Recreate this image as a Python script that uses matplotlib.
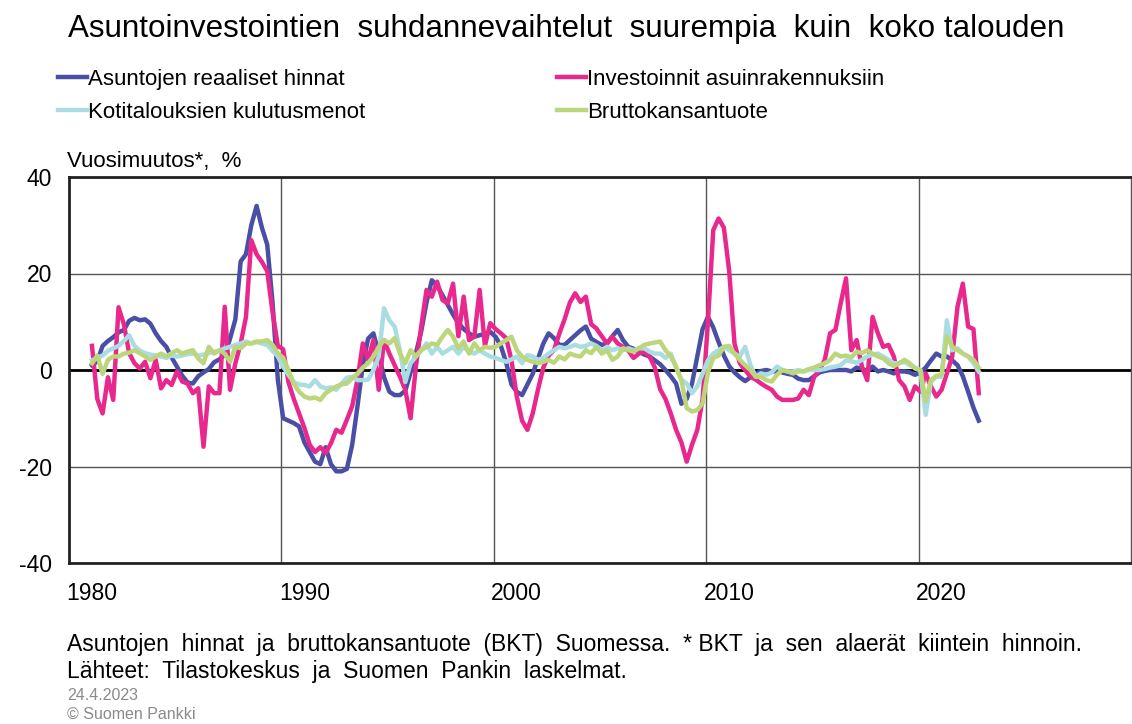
import numpy as np
import matplotlib
matplotlib.use("Agg")
import matplotlib.pyplot as plt

plt.rcParams['font.family'] = ['Liberation Sans', 'DejaVu Sans']
plt.rcParams['axes.unicode_minus'] = False

# quarterly data, 1980Q1 - 2021Q4 (year-on-year change, %)
start_year = 1980
house_prices = [
    1.0, 1.8, 5.0, 6.0,   6.8, 7.8, 8.3, 10.2,   10.8, 10.3, 10.5, 9.6,
    7.6, 6.0, 4.8, 2.6,   0.7, -1.2, -2.6, -2.8,   -1.3, -0.5, 0.2, 1.6,
    2.2, 3.2, 6.5, 10.5,   22.5, 24.0, 30.0, 34.0,   29.5, 26.0, 14.0, -2.0,
    -10.0, -10.5, -11.0, -11.7,   -15.0, -17.0, -19.0, -19.5,   -16.0, -19.5, -21.0, -21.0,
    -20.5, -15.5, -7.5, 1.0,   6.5, 7.6, 3.4, -1.5,   -4.5, -5.2, -5.2, -4.3,
    -0.5, 3.5, 8.0, 14.0,   18.6, 17.5, 15.5, 13.5,   11.5, 9.7, 8.5, 7.6,
    6.9, 7.2, 7.5, 7.9,   6.9, 5.0, 1.5, -3.0,   -4.5, -5.2, -3.0, -0.8,
    2.4, 5.5, 7.6, 6.6,   5.2, 5.2, 6.2, 7.2,   8.2, 9.0, 6.5, 5.8,
    5.2, 5.5, 7.0, 8.3,   6.2, 4.8, 4.4, 3.8,   3.2, 2.8, 2.0, 1.2,
    0.0, -1.3, -2.8, -7.0,   -6.0, -2.8, 2.8, 8.5,   11.0, 8.8, 5.8, 3.0,
    0.8, -0.5, -1.5, -2.3,   -1.5, -0.8, -0.2, 0.0,   -0.3, -0.3, -0.5, -0.8,
    -1.0, -1.8, -2.1, -2.1,   -1.3, -0.5, -0.2, 0.0,   0.0, 0.0, 0.0, -0.3,
    0.5, 0.3, -0.3, 0.7,   -0.3, 0.0, -0.3, -0.7,   -0.3, -0.3, -0.5, -1.0,
    -0.5, 0.5, 2.0, 3.4,   2.8, 2.8, 2.0, 1.0,   -1.3, -4.5, -7.8, -10.5,
]
housing_investment = [
    5.0, -6.0, -9.0, -1.5,   -6.2, 13.0, 9.5, 3.5,   1.4, 0.3, 1.7, -1.7,
    2.1, -3.8, -2.1, -3.1,   -0.3, -2.4, -2.8, -4.8,   -3.8, -15.9, -3.4, -4.8,
    -4.8, 13.1, -4.1, 1.4,   5.5, 11.0, 26.9, 24.0,   22.4, 20.5, 12.0, 5.0,
    4.3, -2.5, -6.0, -9.0,   -12.0, -15.5, -17.0, -16.0,   -17.2, -15.2, -12.4, -13.0,
    -10.3, -7.5, -2.0, 5.5,   2.1, 6.2, -4.1, 6.2,   3.4, 1.0, -1.4, -4.1,
    -10.0, 0.7, 9.0, 16.6,   15.2, 18.3, 14.5, 13.8,   17.9, 7.0, 15.2, 6.2,
    6.9, 16.6, 5.0, 9.7,   8.5, 7.6, 6.6, 2.0,   -5.5, -10.5, -12.4, -9.0,
    -4.0, 0.5, 3.0, 4.1,   7.5, 10.5, 14.0, 15.9,   14.1, 15.2, 9.5, 8.6,
    7.0, 5.5, 6.9, 5.5,   4.8, 4.0, 2.5, 3.4,   3.8, 2.8, 0.5, -4.0,
    -6.0, -9.0, -12.4, -15.0,   -19.0, -15.5, -12.4, -6.0,   10.0, 29.0, 31.4, 29.5,
    20.5, 5.5, 1.4, 0.0,   -1.4, -2.0, -2.8, -3.5,   -4.1, -5.5, -6.2, -6.2,
    -6.2, -5.9, -4.1, -5.2,   -1.4, 0.0, 2.1, 7.6,   8.3, 13.8, 19.0, 4.1,
    6.2, 0.7, -2.1, 11.0,   7.6, 4.8, 5.2, 2.8,   -2.1, -3.4, -6.2, -3.4,
    -4.5, -0.7, -3.4, -5.5,   -4.1, -0.7, 2.8, 13.1,   17.9, 9.0, 8.5, -4.8,
]
consumption = [
    2.0, 2.5, 3.0, 4.0,   4.5, 5.0, 6.0, 7.2,   5.0, 4.0, 3.5, 3.2,
    3.0, 2.8, 2.5, 3.0,   2.8, 3.0, 3.3, 3.4,   3.0, 3.2, 3.5, 3.8,
    4.0, 4.5, 4.8, 5.2,   5.5, 5.9, 5.5, 5.8,   5.5, 5.2, 4.0, 2.8,
    0.7, -1.0, -2.5, -3.0,   -3.1, -3.4, -2.1, -3.4,   -3.8, -3.6, -4.1, -2.8,
    -1.6, -1.4, -2.1, -2.1,   -2.0, 0.0, 2.8, 12.8,   10.3, 9.0, 4.0, -2.5,
    1.4, 2.8, 4.1, 5.5,   3.4, 4.8, 3.4, 4.1,   4.8, 3.4, 4.8, 3.8,
    3.4, 4.1, 3.4, 2.8,   2.5, 2.1, 1.7, 2.2,   2.8, 1.4, 3.1, 2.8,
    2.1, 2.5, 3.4, 4.1,   4.8, 4.5, 4.8, 5.2,   4.8, 5.0, 5.5, 5.0,
    4.1, 4.8, 4.1, 4.5,   4.1, 4.5, 4.1, 4.5,   4.5, 3.8, 3.4, 3.4,
    2.5, 3.4, 0.5, -2.0,   -2.8, -4.8, -3.4, -0.7,   2.0, 3.4, 4.1, 4.8,
    4.1, 3.4, 2.8, 4.8,   1.0, -1.4, -0.7, -1.0,   -0.5, 0.7, 0.0, -0.3,
    -0.3, 0.0, -0.3, 0.0,   0.0, 0.0, 0.2, 0.5,   0.7, 1.0, 2.0, 1.8,
    1.5, 2.1, 2.8, 3.2,   3.4, 2.8, 2.1, 1.4,   1.4, 1.7, 1.0, 0.5,
    0.0, -9.3, -2.4, -1.4,   -1.4, 10.3, 4.1, 4.5,   3.4, 2.8, 1.4, -0.3,
]
gdp = [
    1.4, 3.0, -0.8, 2.1,   2.8, 2.8, 3.4, 3.6,   4.1, 3.5, 2.8, 2.1,
    2.8, 3.4, 2.8, 3.5,   4.1, 3.4, 3.8, 4.1,   2.4, 1.4, 4.8, 3.4,
    4.1, 3.4, 1.7, 4.8,   4.5, 5.5, 5.5, 5.9,   5.9, 6.2, 5.2, 3.5,
    2.5, 0.0, -2.8, -4.5,   -5.5, -5.9, -5.7, -6.2,   -4.8, -4.1, -3.4, -3.0,
    -2.8, -1.7, -0.8, 0.5,   1.4, 2.8, 4.8, 6.2,   5.5, 6.6, 3.4, 1.4,
    4.1, 2.8, 4.1, 4.8,   5.5, 5.2, 6.9, 8.3,   6.9, 4.5, 5.9, 3.4,
    5.5, 4.1, 4.8, 4.6,   4.8, 5.5, 6.2, 6.9,   4.1, 2.8, 2.1, 1.7,
    1.4, 1.7, 2.1, 1.5,   2.8, 2.2, 3.4, 3.0,   2.8, 4.1, 3.5, 4.8,
    3.4, 4.1, 2.1, 2.8,   4.5, 4.1, 3.8, 4.5,   5.2, 5.5, 5.7, 5.9,
    4.1, 2.8, 0.7, -2.1,   -7.9, -8.6, -8.3, -6.9,   -0.5, 2.5, 3.0, 4.8,
    5.0, 3.4, 2.1, 1.0,   0.0, -1.4, -1.4, -2.1,   -2.4, -1.0, 0.0, -0.3,
    -0.7, -0.3, -0.3, 0.2,   0.5, 1.0, 1.4, 2.1,   3.4, 2.8, 3.0, 2.6,
    3.8, 3.5, 4.1, 3.4,   2.8, 2.4, 1.4, 0.8,   1.4, 2.1, 1.4, 0.3,
    0.0, -6.5, -2.1, -1.2,   -1.0, 7.0, 4.8, 4.1,   3.4, 2.8, 2.1, 0.5,
]

labels = ['Asuntojen reaaliset hinnat', 'Investoinnit asuinrakennuksiin',
          'Kotitalouksien kulutusmenot', 'Bruttokansantuote']
colors = ['#4a4fa6', '#e8288c', '#a9dde3', '#bcd67c']
year_labels = [1980, 1990, 2000, 2010, 2020]

x = start_year + np.arange(len(house_prices)) / 4.0

fig = plt.figure(figsize=(11.32, 7.24), dpi=100)
ax = fig.add_axes([69/1132, 161/724, 1062/1132, 386/724])

series = [house_prices, housing_investment, consumption, gdp]
lines = []
for vals, c, lab in zip(series, colors, labels):
    ln, = ax.plot(x, vals, color=c, lw=3.2, label=lab, solid_joinstyle='round')
    lines.append(ln)

left = start_year - 23/21.25
ax.set_xlim(left, left + 50)
ax.set_ylim(-40, 40)
ax.set_yticks([-40, -20, 0, 20, 40])
ax.set_xticks(year_labels)
ax.set_xticklabels([str(y) for y in year_labels])
ax.tick_params(length=0, labelsize=16.5, colors='black')
ax.tick_params(axis='y', pad=12)
ax.tick_params(axis='x', pad=14)

ax.grid(axis='y', color='#555555', lw=1.0)
for k in range(1, 5):
    ax.axvline(left + 10*k, color='#555555', lw=1.0, zorder=0)
ax.axhline(0, color='black', lw=2.0, zorder=1.5)
ax.set_axisbelow(True)
for s in ['top', 'bottom', 'left']:
    ax.spines[s].set_linewidth(2)
    ax.spines[s].set_color('#222222')
ax.spines['right'].set_linewidth(1)
ax.spines['right'].set_color('#555555')

fig.text(0.5, 1 - 37/724, 'Asuntoinvestointien  suhdannevaihtelut  suurempia  kuin  koko talouden',
         ha='center', va='baseline', fontsize=22.6)

# legend fills column-wise, so reorder to get blue/pink on row 1
order = [0, 2, 1, 3]
fig.legend([lines[i] for i in order], [labels[i] for i in order],
           loc='upper left', bbox_to_anchor=(58/1132, 1 - 69/724), ncol=2,
           frameon=False, fontsize=16, handlelength=1.3, handletextpad=0.05,
           columnspacing=8.65, labelspacing=0.55, borderaxespad=0, borderpad=0)

fig.text(67/1132, 1 - 167/724, 'Vuosimuutos*,  %', fontsize=16, va='baseline')

fig.text(67/1132, 1 - 651/724,
         'Asuntojen  hinnat  ja  bruttokansantuote  (BKT)  Suomessa.  * BKT  ja  sen  alaerät  kiintein  hinnoin.',
         fontsize=16.5, va='baseline')
fig.text(67/1132, 1 - 678/724, 'Lähteet:  Tilastokeskus  ja  Suomen  Pankin  laskelmat.',
         fontsize=16.5, va='baseline')
fig.text(67/1132, 1 - 700/724, '24.4.2023', fontsize=11.5, color='#8a8a8a', va='baseline')
fig.text(67/1132, 1 - 719/724, '© Suomen Pankki', fontsize=11.5, color='#8a8a8a', va='baseline')

fig.savefig('out.png', dpi=100)
